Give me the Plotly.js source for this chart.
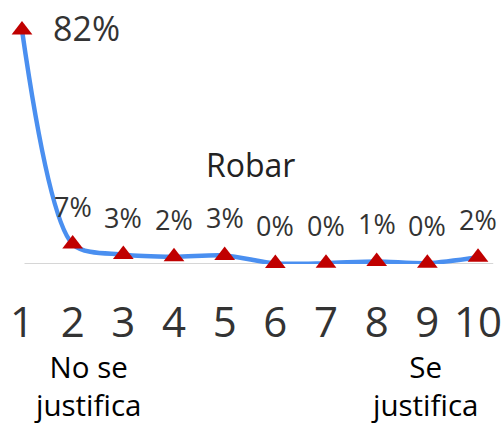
<!DOCTYPE html>
<html><head><meta charset="utf-8">
<script src="https://cdn.plot.ly/plotly-3.0.1.min.js"></script>
<style>body{margin:0;padding:0;background:#fff}#chart{width:503px;height:426px}</style>
</head><body><div id="chart"></div>
<script>
const categories = [1,2,3,4,5,6,7,8,9,10];
const values = [82,7,3.3,2.5,3,0.2,0.3,0.9,0.3,2.4];
const labels = ["82%","7%","3%","2%","3%","0%","0%","1%","0%","2%"];
const chartTitle = "Robar";
const leftNote = "No se<br>justifica";
const rightNote = "Se<br>justifica";

const font = "'Open Sans','Noto Sans',sans-serif";
const trace = {
  x: categories, y: values, type: 'scatter', mode: 'lines+markers',
  line: {color: '#4a8ff0', width: 4.5, shape: 'spline', smoothing: 0.8},
  marker: {symbol: 'triangle-up', color: '#c00000', size: 18},
  cliponaxis: false, hoverinfo: 'none'
};
const labelAnns = categories.map((c,i)=> i===0 ?
  {text: labels[i], x: c, y: values[i], xref:'x', yref:'y', showarrow:false,
   xanchor:'left', yanchor:'middle', xshift: 29, yshift: 2,
   font:{family: font, size: 34, color:'#333'}} :
  {text: labels[i], x: c, y: values[i], xref:'x', yref:'y', showarrow:false,
   xanchor:'center', yanchor:'bottom', yshift: 17,
   font:{family: font, size: 27, color:'#333'}});
const layout = {
  width: 503, height: 426,
  margin: {l: 0, r: 0, t: 0, b: 162},
  paper_bgcolor: '#fff', plot_bgcolor: '#fff',
  showlegend: false,
  xaxis: {range: [0.566, 10.493], showgrid: false, zeroline: false, showline: false,
          tickvals: categories, ticktext: categories.map(String), ticks: '',
          ticklabelstandoff: 30,
          tickfont: {family: font, size: 42, color: '#333'}, fixedrange: true},
  yaxis: {range: [0, 92.5], showgrid: false, zeroline: false, showline: false,
          showticklabels: false, fixedrange: true},
  shapes: [{type: 'line', xref: 'x', yref: 'y', x0: 1.05, x1: 10.3, y0: 0, y1: 0,
            line: {color: '#c8c8c8', width: 1.5}, layer: 'below'}],
  annotations: labelAnns.concat([
    {text: chartTitle, x: 5.5, y: 35, xref: 'x', yref: 'y', showarrow: false,
     font: {family: font, size: 32, color: '#222'}},
    {text: leftNote, x: 2.3, y: -0.462, xref: 'x', yref: 'paper', showarrow: false,
     yanchor: 'middle', font: {family: font, size: 29.5, color: '#000'}},
    {text: rightNote, x: 8.95, y: -0.462, xref: 'x', yref: 'paper', showarrow: false,
     yanchor: 'middle', font: {family: font, size: 29.5, color: '#000'}}
  ])
};
Plotly.newPlot('chart', [trace], layout, {displayModeBar: false, staticPlot: true});
</script></body></html>
